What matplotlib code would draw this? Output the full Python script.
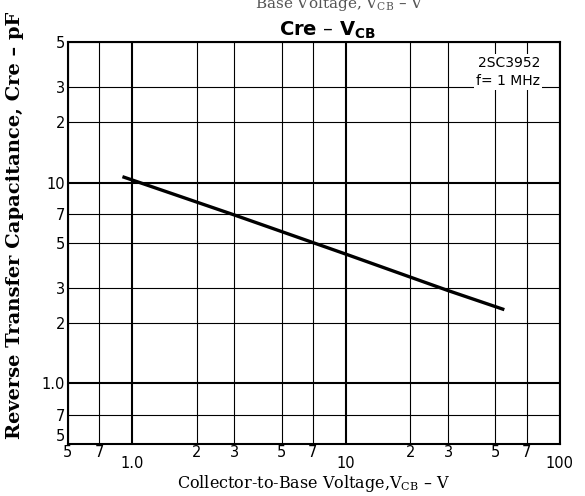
import matplotlib.pyplot as plt
from matplotlib.ticker import FixedLocator, FixedFormatter

# curve
vcb = [0.9, 1.0, 3.0, 10.0, 30.0, 55.0]
cre = [10.7, 10.3, 6.9, 4.4, 2.9, 2.33]

x_major = [1.0, 10.0, 100.0]
x_major_lbl = ["1.0", "10", "100"]
x_minor = [0.5, 0.7, 2, 3, 5, 7, 20, 30, 50, 70]
x_minor_lbl = ["5", "7", "2", "3", "5", "7", "2", "3", "5", "7"]

y_major = [1.0, 10.0]
y_major_lbl = ["1.0", "10"]
y_minor = [0.5, 0.7, 2, 3, 5, 7, 20, 30, 50]
y_minor_lbl = ["5", "7", "2", "3", "5", "7", "2", "3", "5"]

fig = plt.figure(figsize=(5.85, 4.96), dpi=100)
ax = fig.add_axes([0.116, 0.105, 0.841, 0.810])
ax.set_xscale("log")
ax.set_yscale("log")
ax.set_xlim(0.5, 100)
ax.set_ylim(0.5, 50)

ax.plot(vcb, cre, color="black", lw=2.4, solid_capstyle="butt")

ax.xaxis.set_major_locator(FixedLocator(x_major))
ax.xaxis.set_major_formatter(FixedFormatter(x_major_lbl))
ax.xaxis.set_minor_locator(FixedLocator(x_minor))
ax.xaxis.set_minor_formatter(FixedFormatter(x_minor_lbl))
ax.yaxis.set_major_locator(FixedLocator(y_major))
ax.yaxis.set_major_formatter(FixedFormatter(y_major_lbl))
ax.yaxis.set_minor_locator(FixedLocator(y_minor))
ax.yaxis.set_minor_formatter(FixedFormatter(y_minor_lbl))

ax.tick_params(axis="both", which="both", length=0, labelsize=10.5, colors="black")
ax.tick_params(axis="x", which="major", pad=9)
ax.tick_params(axis="x", which="minor", pad=1)
ax.tick_params(axis="y", which="both", pad=2)

ax.grid(which="major", color="black", lw=1.5)
ax.grid(which="minor", color="black", lw=0.8)
for s in ax.spines.values():
    s.set_linewidth(1.5)

ax.text(0.96, 0.965, "2SC3952\nf= 1 MHz", transform=ax.transAxes, ha="right", va="top",
        fontsize=10, linespacing=1.3,
        bbox=dict(facecolor="white", edgecolor="none", pad=1.5))

ax.set_xlabel("Collector-to-Base Voltage,V$_{\\mathregular{CB}}$ – V", family="DejaVu Serif",
              fontsize=11.5)
ax.xaxis.set_label_coords(0.5, -0.073)
ax.set_ylabel("Reverse Transfer Capacitance, Cre – pF", family="DejaVu Serif",
              fontsize=14, fontweight="semibold")
ax.yaxis.set_label_coords(-0.09, 0.545)

fig.text(0.56, 0.938, "Cre – V$_{\\mathregular{CB}}$", ha="center", va="center",
         fontsize=14, fontweight="bold")
# clipped remnant of the previous graph's axis label at the very top
fig.text(0.58, 0.992, "Base Voltage, V$_{\\mathregular{CB}}$ – V", ha="center", va="center",
         family="DejaVu Serif", fontsize=11, color="#555555")

# lift the bottom "5" on the y axis off the corner, as in the original
fig.canvas.draw()
ax.get_yminorticklabels()[0].set_va("bottom")

fig.savefig("out.png", dpi=100)
